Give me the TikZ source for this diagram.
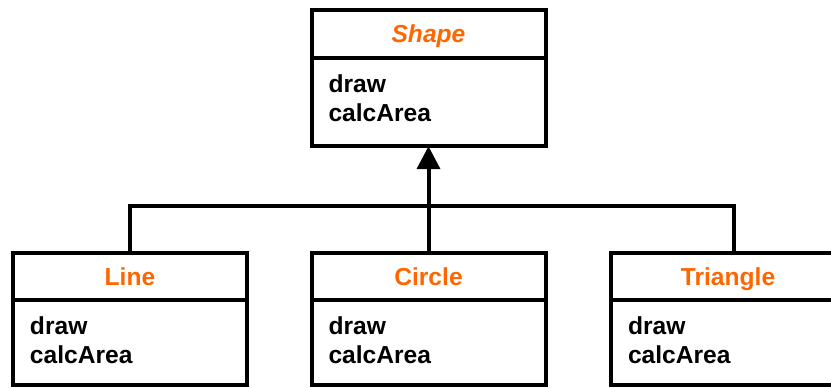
\documentclass[tikz,border=0pt]{standalone}
\usepackage{fontspec}
\setmainfont{Liberation Sans}
\usepackage{tikz}
\usetikzlibrary{positioning, arrows.meta}
\definecolor{umlorange}{HTML}{FF6600}

\begin{document}
\begin{tikzpicture}[
    x=0.5pt, y=-0.5pt,
    every node/.style={font=\fontsize{12.3pt}{14.5pt}\selectfont\bfseries},
    classname/.style={rectangle, draw=black, line width=2pt, outer sep=0pt, inner sep=0pt, minimum width=117pt, minimum height=23.5pt, text height=8.9pt, text depth=0pt, text=umlorange},
    classops/.style={rectangle, draw=black, line width=2pt, outer sep=0pt, text width=100pt, inner xsep=8.5pt, inner ysep=8.5pt, align=left, text depth=16.7pt},
    link/.style={line width=2pt},
    inherit/.style={line width=2pt, -{Triangle[length=11.5pt, width=11.5pt]}}
]
\useasboundingbox (0,0) rectangle (831,387);
\clip (0,0) rectangle (831,387);

% --- base class ---
\node[classname, minimum height=24pt] (shape) at (428.5,34) {\itshape Shape};
\node[classops, below=0pt of shape, text depth=18.2pt] (shapeops) {draw\\calcArea};

% --- subclasses ---
\node[classname] (line)     at (130,276.5)   {Line};
\node[classops, below=0pt of line]     (lineops)     {draw\\calcArea};
\node[classname] (circle)   at (428.5,276.5) {Circle};
\node[classops, below=0pt of circle]   (circleops)   {draw\\calcArea};
\node[classname] (triangle) at (728,276.5)   {Triangle};
\node[classops, below=0pt of triangle] (triangleops) {draw\\calcArea};

% --- generalization ---
\coordinate (bus) at (428.5,205.5);
\draw[link] (line.north) |- (bus) -| ([xshift=3pt]triangle.north);
\draw[inherit] (circle.north) -- (shapeops.south);
\end{tikzpicture}
\end{document}
